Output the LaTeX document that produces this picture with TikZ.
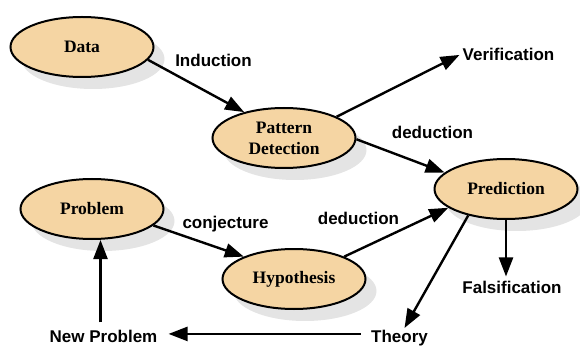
\documentclass[tikz,border=0pt]{standalone}
\usepackage{fontspec}
\setmainfont{Liberation Serif}
\setsansfont{Liberation Sans}
\usetikzlibrary{shapes.geometric,arrows.meta,shadows,calc}
\definecolor{tan}{RGB}{245,213,163}
\definecolor{shade}{RGB}{228,228,228}
\begin{document}
\begin{tikzpicture}[x=1pt,y=-1pt,
  oval/.style={ellipse, draw=black, line width=2pt, fill=tan,
    minimum width=143pt, minimum height=60pt, inner sep=0pt, align=center,
    font=\rmfamily\bfseries\fontsize{17.5}{21}\selectfont,
    drop shadow={shadow xshift=11pt, shadow yshift=-12pt, fill=shade, opacity=1, draw=none}},
  lbl/.style={anchor=base, inner sep=3pt, font=\sffamily\bfseries\fontsize{17}{20}\selectfont},
  arr/.style={line width=2.4pt, -{Triangle[length=19pt,width=14pt]}}]
\useasboundingbox (0,0) rectangle (580,347);

\node[oval] (Data) at (82,47) {Data};
\node[oval] (Pattern) at (284,138) {Pattern\\Detection};
\node[oval] (Pred) at (506,189) {Prediction};
\node[oval] (Problem) at (92,209) {Problem};
\node[oval] (Hyp) at (294,279) {Hypothesis};

\node[lbl] (Ind) at (213.5,67) {Induction};
\node[lbl] (Verif) at (508.5,61) {Verification};
\node[lbl] (Ded1) at (432.5,139) {deduction};
\node[lbl] (Conj) at (225.5,228) {conjecture};
\node[lbl] (Ded2) at (358.5,224) {deduction};
\node[lbl, inner sep=4pt] (Fals) at (512,293) {Falsification};
\node[lbl] (Theory) at (399.5,342.5) {Theory};
\node[lbl] (NewP) at (103.5,342) {New Problem};

\draw[arr] (Data.-11) -- (Pattern.147);
\draw[arr] (Pattern.22) -- (Verif.west);
\draw[arr] (Pattern.-1) -- (Pred.165);
\draw[arr] (Problem.-15) -- (Hyp.156);
\draw[arr] (Hyp.24) -- (Pred.-162);
\draw[arr] (Pred.south) -- (Pred.south |- Fals.north);
\draw[arr] (Pred.-145) -- ([xshift=5pt,yshift=-1pt]Theory.north);
\coordinate (thw) at ($(Theory.west |- NewP.east)+(-7,-2)$);
\draw[arr] (thw) -- ($(NewP.east |- thw)+(8,0)$);
\coordinate (np) at ($(NewP.north)+(-3,-4)$);
\draw[arr] (np) -- (np |- Problem.south);
\end{tikzpicture}
\end{document}
